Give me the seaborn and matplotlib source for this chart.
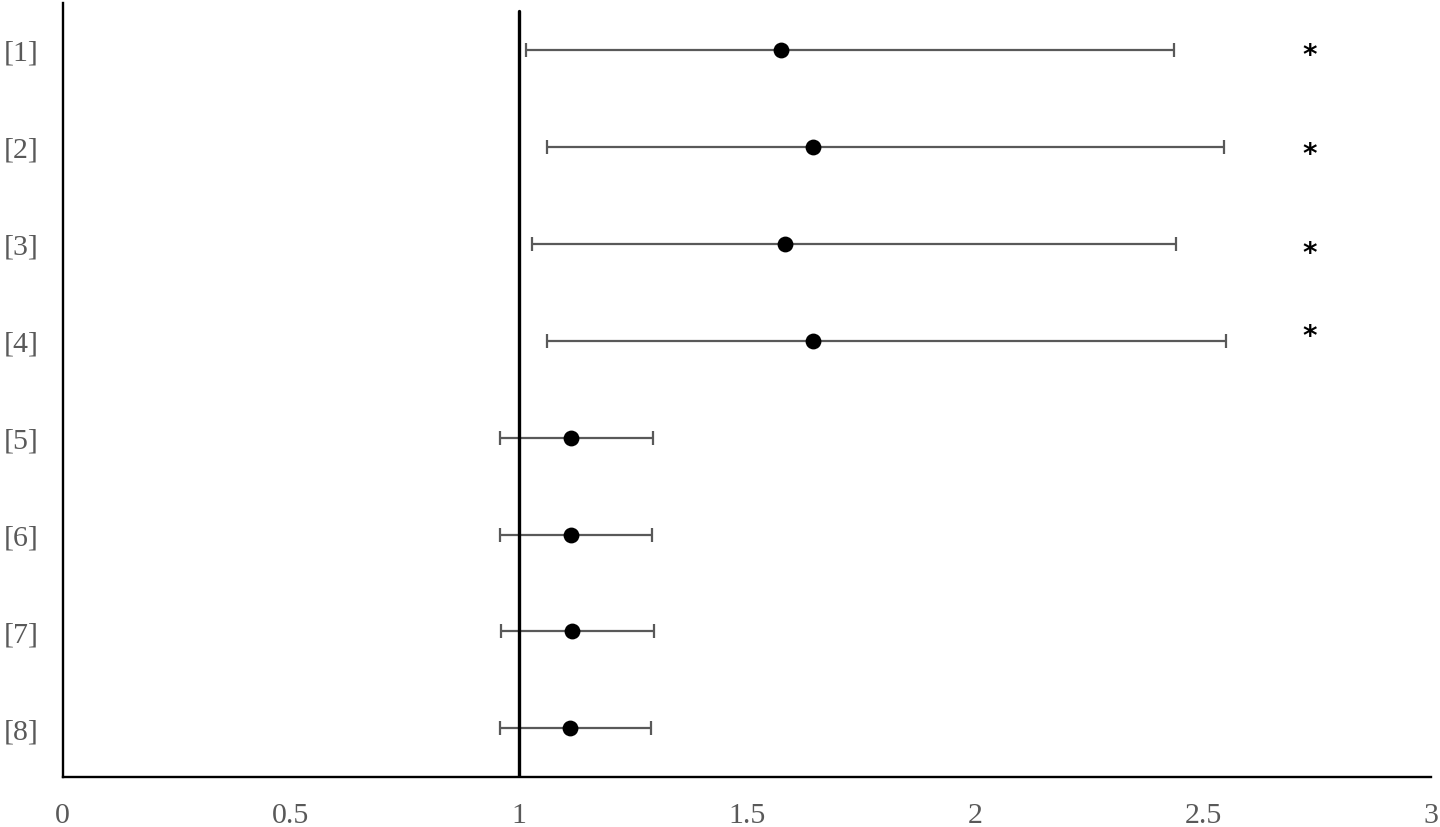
import matplotlib
matplotlib.use("Agg")
import matplotlib.pyplot as plt
import seaborn as sns
import numpy as np
from pandas import DataFrame

sns.set_theme(style="white")
plt.rcParams["font.family"] = ["Liberation Serif", "DejaVu Serif"]

labels = ["[1]", "[2]", "[3]", "[4]", "[5]", "[6]", "[7]", "[8]"]
estimate = [1.576, 1.646, 1.584, 1.646, 1.114, 1.114, 1.117, 1.112]
lower = [1.017, 1.063, 1.028, 1.061, 0.959, 0.959, 0.961, 0.959]
upper = [2.437, 2.546, 2.442, 2.550, 1.295, 1.293, 1.296, 1.291]
significant = [True, True, True, True, False, False, False, False]

df = DataFrame({"label": labels, "est": estimate, "lo": lower, "hi": upper})

fig = plt.figure(figsize=(14.4, 8.28), dpi=100)
ax = fig.add_axes([0.0435, 0.0604, 0.9502, 0.9348])

ypos = np.arange(len(labels))
ax.errorbar(df["est"], ypos,
            xerr=[df["est"] - df["lo"], df["hi"] - df["est"]],
            fmt="none", ecolor="#595959", elinewidth=1.6, capsize=5, capthick=1.6,
            zorder=2)
sns.scatterplot(x=df["est"], y=ypos, ax=ax, color="black", s=130,
                edgecolor="black", linewidth=0, zorder=3, legend=False)

ax.axvline(1, ymin=0, ymax=0.99, color="black", linewidth=2.4, zorder=4)

# asterisks for significant rows (small vertical nudges as in the original)
star_nudge = [0.06, 0.08, 0.10, -0.05]
for i, sig in enumerate(significant):
    if sig:
        ax.text(2.735, ypos[i] + star_nudge[i], "*", ha="center", va="center",
                fontsize=20, fontweight="bold", color="black",
                family=["DejaVu Sans"])

ax.set_xlim(0, 3)
ax.set_ylim(len(labels) - 0.5, -0.48)
ax.set_xticks([0, 0.5, 1, 1.5, 2, 2.5, 3])
ax.set_xticklabels(["0", "0.5", "1", "1.5", "2", "2.5", "3"])
ax.set_yticks(ypos)
ax.set_yticklabels(labels)
ax.tick_params(axis="both", length=0, labelsize=21.5, labelcolor="#595959")
ax.tick_params(axis="x", pad=18)
ax.tick_params(axis="y", pad=17)
ax.set_xlabel("")
ax.set_ylabel("")

sns.despine(ax=ax)
for side in ["left", "bottom"]:
    ax.spines[side].set_color("black")
    ax.spines[side].set_linewidth(1.7)

fig.savefig("out.png", dpi=100)
